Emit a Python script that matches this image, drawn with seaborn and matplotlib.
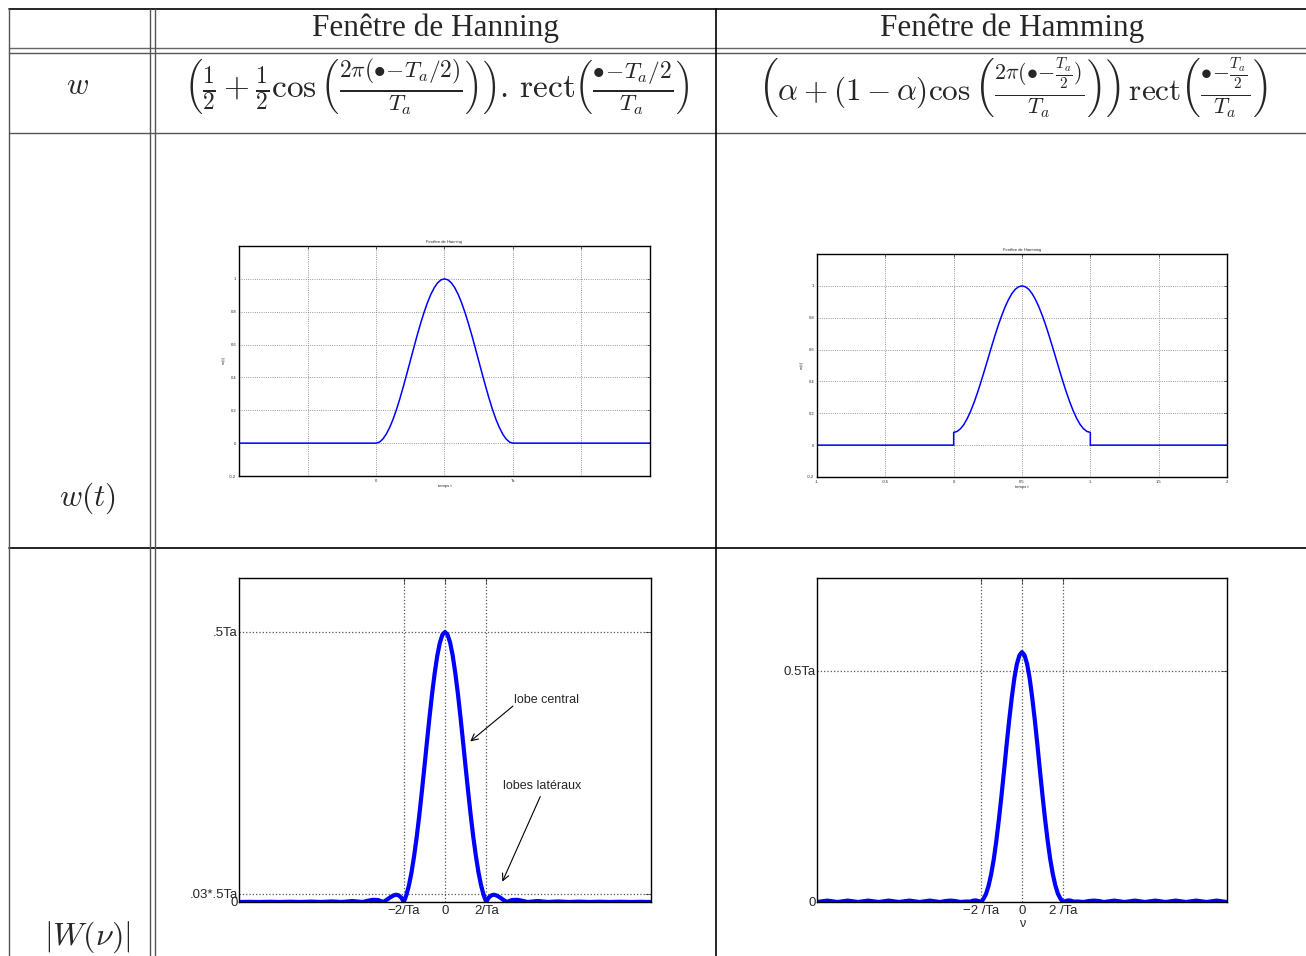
import seaborn as sns
import matplotlib.pyplot as plt
import numpy as np

# time windows (t in units of Ta), first half of the bump
t_half = [0, 0.025, 0.05, 0.075, 0.1, 0.125, 0.15, 0.175, 0.2, 0.225, 0.25,
          0.275, 0.3, 0.325, 0.35, 0.375, 0.4, 0.425, 0.45, 0.475, 0.5]
w_hanning_half = [0, 0.006, 0.025, 0.055, 0.096, 0.146, 0.206, 0.273, 0.346, 0.422, 0.5,
                  0.578, 0.655, 0.727, 0.794, 0.854, 0.905, 0.946, 0.976, 0.994, 1.0]
w_hamming_half = [0.08, 0.086, 0.103, 0.13, 0.168, 0.215, 0.27, 0.331, 0.398, 0.468, 0.54,
                  0.612, 0.682, 0.749, 0.81, 0.865, 0.912, 0.95, 0.978, 0.994, 1.0]

# spectra, positive half (nu in units of 1/Ta, amplitude in units of Ta)
nu_half = [0, 0.125, 0.25, 0.375, 0.5, 0.625, 0.75, 0.875, 1, 1.125, 1.25, 1.375, 1.5,
           1.625, 1.75, 1.875, 2, 2.125, 2.25, 2.375, 2.5, 2.625, 2.75, 2.875, 3,
           3.25, 3.5, 3.75, 4, 4.5, 5, 5.5, 6, 6.5, 7, 7.5, 8, 8.5, 9, 9.5, 10]
W_hanning_half = [0.5, 0.495, 0.48, 0.456, 0.424, 0.386, 0.343, 0.297, 0.25, 0.204, 0.16,
                  0.12, 0.085, 0.055, 0.031, 0.013, 0, 0.0082, 0.0123, 0.0135, 0.0121,
                  0.0095, 0.0062, 0.0029, 0, 0.0036, 0.004, 0.0023, 0, 0.0018, 0, 0.001,
                  0, 0.0007, 0, 0.0005, 0, 0.0004, 0, 0.0003, 0]
W_hamming_half = [0.54, 0.533, 0.514, 0.483, 0.441, 0.393, 0.34, 0.284, 0.23, 0.179, 0.133,
                  0.093, 0.061, 0.036, 0.018, 0.007, 0, 0.002, 0.0034, 0.003, 0.001,
                  0.001, 0.001, 0.0005, 0, 0.002, 0.003, 0.002, 0, 0.003, 0, 0.003,
                  0, 0.003, 0, 0.003, 0, 0.003, 0, 0.003, 0]

# full windows: zero outside [0, Ta], Hamming has jumps at 0 and Ta
t_mid = np.concatenate([t_half, 1 - np.array(t_half[-2::-1])])
t_hanning = np.concatenate([[-1], t_mid, [2]])
w_hanning = np.concatenate([[0], w_hanning_half, w_hanning_half[-2::-1], [0]])
t_hamming = np.concatenate([[-1, 0], t_mid, [1, 2]])
w_hamming = np.concatenate([[0, 0], w_hamming_half, w_hamming_half[-2::-1], [0, 0]])

nu = np.concatenate([-np.array(nu_half[:0:-1]), nu_half])
W_hanning = np.concatenate([W_hanning_half[:0:-1], W_hanning_half])
W_hamming = np.concatenate([W_hamming_half[:0:-1], W_hamming_half])

headers = ['Fenêtre de Hanning', 'Fenêtre de Hamming']
formulas = [
    r'$\left(\frac{1}{2}+\frac{1}{2}\cos\left(\frac{2\pi(\bullet\!-\!T_a/2)}{T_a}\right)\right).\,'
    r'\mathrm{rect}\left(\frac{\bullet\!-\!T_a/2}{T_a}\right)$',
    r'$\left(\alpha+(1-\alpha)\cos\left(\frac{2\pi(\bullet\!-\!\frac{T_a}{2})}{T_a}\right)\right)\,'
    r'\mathrm{rect}\left(\frac{\bullet\!-\!\frac{T_a}{2}}{T_a}\right)$',
]
row_labels = [r'$w$', r'$w(t)$', r'$|W(\nu)|$']

sns.set_style('white')
plt.rcParams['font.family'] = ['Liberation Sans', 'DejaVu Sans']
plt.rcParams['mathtext.fontset'] = 'cm'

W, H = 1306, 956
fig = plt.figure(figsize=(W / 100, H / 100), dpi=100)


def fx(px):
    return px / W


def fy(py):
    return 1 - py / H


def hline(py, x0, x1, color='black', lw=1.2):
    fig.add_artist(plt.Line2D([fx(x0), fx(x1)], [fy(py), fy(py)], color=color, lw=lw))


def vline(px, y0, y1, color='black', lw=1.2):
    fig.add_artist(plt.Line2D([fx(px), fx(px)], [fy(y0), fy(y1)], color=color, lw=lw))


# table frame
hline(9, 9, 1306)
hline(48, 9, 1306, color='#666666', lw=1.0)
hline(53, 9, 1306, color='#555555', lw=1.0)
hline(133, 9, 1306, color='#555555', lw=1.0)
hline(548, 9, 1306)
vline(9, 9, 956, color='#555555', lw=1.0)
vline(150, 9, 956, color='#555555', lw=1.0)
vline(155, 9, 956, color='#555555', lw=1.0)
vline(716, 9, 956)

# header and formulas
fig.text(fx(435), fy(28), headers[0], family='Liberation Serif', fontsize=22.5,
         ha='center', va='center')
fig.text(fx(1012), fy(28), headers[1], family='Liberation Serif', fontsize=22.5,
         ha='center', va='center')
fig.text(fx(437), fy(87), formulas[0], fontsize=24, ha='center', va='center')
fig.text(fx(1013), fy(88), formulas[1], fontsize=22.5, ha='center', va='center')

fig.text(fx(78), fy(86), row_labels[0], fontsize=22, ha='center', va='center')
fig.text(fx(87), fy(498), row_labels[1], fontsize=22.5, ha='center', va='center')
fig.text(fx(87), fy(937), row_labels[2], fontsize=23, ha='center', va='center')


def style_axes(ax, small):
    for s in ax.spines.values():
        s.set_visible(True)
        s.set_color('black')
        s.set_linewidth(1.0)
    ax.tick_params(direction='in', top=True, right=True,
                   length=2 if small else 4, width=0.5,
                   labelsize=3 if small else 9.5, pad=2)
    ax.grid(True, linestyle=':', color='#777777', lw=0.6 if small else 0.8)


# top row: time windows
ax1 = fig.add_axes([fx(239), fy(476), fx(650) - fx(239), fy(246) - fy(476)])
sns.lineplot(x=t_hanning, y=w_hanning, ax=ax1, color='#0000ff', lw=1.1,
             estimator=None, sort=False)
ax1.set_xlim(-1, 2)
ax1.set_ylim(-0.2, 1.2)
ax1.set_xticks([-0.5, 0, 0.5, 1, 1.5])
ax1.set_xticklabels(['', '0', '', 'Ta', ''])
ax1.set_yticks([-0.2, 0, 0.2, 0.4, 0.6, 0.8, 1])
ax1.set_yticklabels(['-0.2', '0', '0.2', '0.4', '0.6', '0.8', '1'])
ax1.set_title('Fenêtre de Hanning', fontsize=3, pad=2)
ax1.set_xlabel('temps t', fontsize=3, labelpad=1)
ax1.set_ylabel('w(t)', fontsize=3, labelpad=2)
style_axes(ax1, True)

ax2 = fig.add_axes([fx(817), fy(477), fx(1227) - fx(817), fy(254) - fy(477)])
sns.lineplot(x=t_hamming, y=w_hamming, ax=ax2, color='#0000ff', lw=1.1,
             estimator=None, sort=False)
ax2.set_xlim(-1, 2)
ax2.set_ylim(-0.2, 1.2)
ax2.set_xticks([-1, -0.5, 0, 0.5, 1, 1.5, 2])
ax2.set_xticklabels(['-1', '-0.5', '0', '0.5', '1', '1.5', '2'])
ax2.set_yticks([-0.2, 0, 0.2, 0.4, 0.6, 0.8, 1])
ax2.set_yticklabels(['-0.2', '0', '0.2', '0.4', '0.6', '0.8', '1'])
ax2.set_title('Fenêtre de Hamming', fontsize=3, pad=2)
ax2.set_xlabel('temps t', fontsize=3, labelpad=1)
ax2.set_ylabel('w(t)', fontsize=3, labelpad=2)
style_axes(ax2, True)

# bottom row: spectra
ax3 = fig.add_axes([fx(239), fy(902), fx(651) - fx(239), fy(578) - fy(902)])
sns.lineplot(x=nu, y=W_hanning, ax=ax3, color='#0000ff', lw=3,
             estimator=None, sort=False)
ax3.set_xlim(-10, 10)
ax3.set_ylim(0, 0.6)
ax3.set_xticks([-2, 0, 2])
ax3.set_xticklabels(['\u22122/Ta', '0', '2/Ta'])
ax3.set_yticks([0, 0.015, 0.5])
ax3.set_yticklabels(['0', '.03*.5Ta', '.5Ta'])
style_axes(ax3, False)
ax3.tick_params(axis='y', pad=1)
ax3.grid(True, linestyle=':', color='#555555', lw=0.9)
ax3.text(4.93, 0.374, 'lobe central', fontsize=9, ha='center', va='center')
ax3.annotate('', xy=(1.12, 0.294), xytext=(3.4, 0.366),
             arrowprops=dict(arrowstyle='->', color='black', lw=0.8, mutation_scale=12))
ax3.text(4.73, 0.215, 'lobes latéraux', fontsize=9, ha='center', va='center')
ax3.annotate('', xy=(2.73, 0.033), xytext=(4.68, 0.2),
             arrowprops=dict(arrowstyle='->', color='black', lw=0.8, mutation_scale=12))

ax4 = fig.add_axes([fx(817), fy(902), fx(1227) - fx(817), fy(578) - fy(902)])
sns.lineplot(x=nu, y=W_hamming, ax=ax4, color='#0000ff', lw=3,
             estimator=None, sort=False)
ax4.set_xlim(-10, 10)
ax4.set_ylim(0, 0.7)
ax4.set_xticks([-2, 0, 2])
ax4.set_xticklabels(['\u22122 /Ta', '0', '2 /Ta'])
ax4.set_yticks([0, 0.5])
ax4.set_yticklabels(['0', '0.5Ta'])
style_axes(ax4, False)
ax4.tick_params(axis='y', pad=1)
ax4.grid(True, linestyle=':', color='#555555', lw=0.9)
ax4.set_xlabel('\u03bd', fontsize=9, labelpad=1)
ax4.set_ylabel('')

fig.savefig('out.png', dpi=100)
